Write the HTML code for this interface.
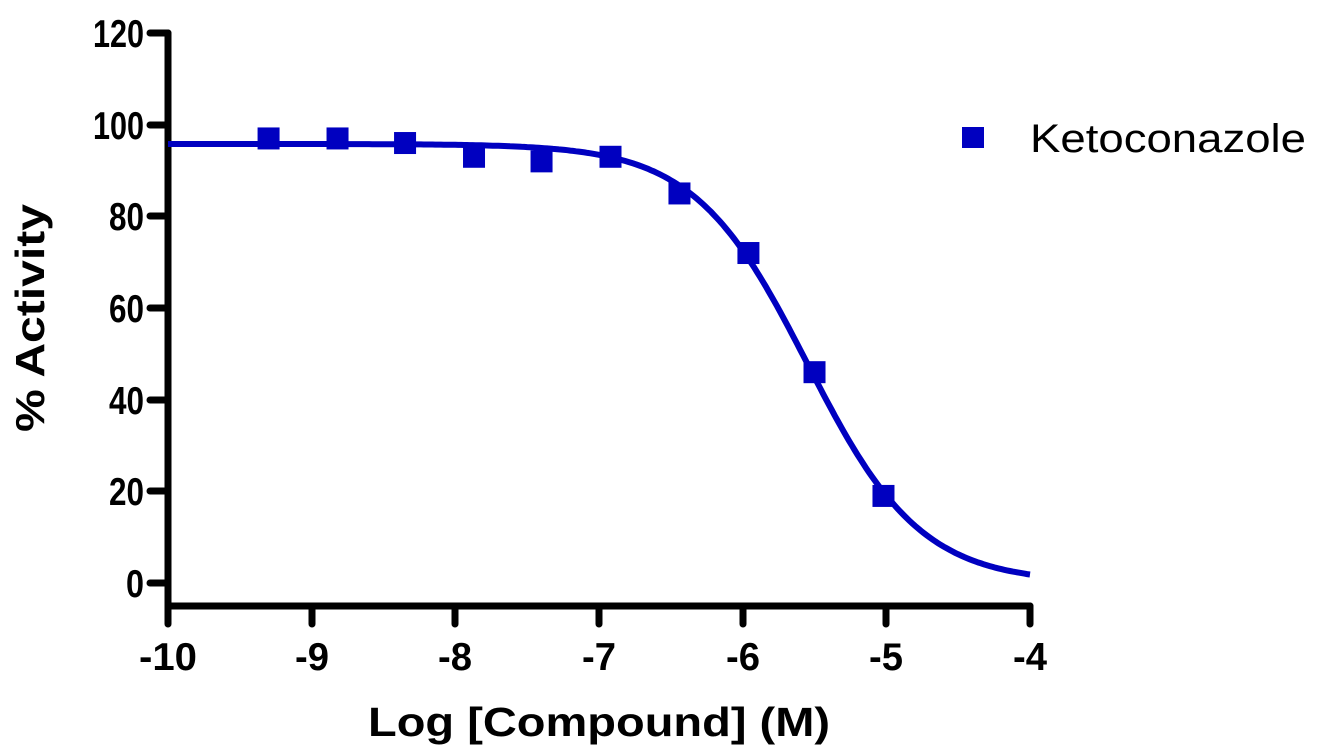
<!DOCTYPE html>
<html><head><style>body{margin:0;background:#fff}svg{display:block}text{font-family:"Liberation Sans",Arial,sans-serif}</style></head>
<body>
<svg width="1318" height="756" viewBox="0 0 1318 756" xmlns="http://www.w3.org/2000/svg">
<g stroke="#000" stroke-width="7" stroke-linecap="round" fill="none">
<line x1="168" y1="33" x2="168" y2="606"/>
<line x1="168" y1="606" x2="1030" y2="606"/>
<line x1="150" y1="33" x2="168" y2="33"/>
<line x1="150" y1="125" x2="168" y2="125"/>
<line x1="150" y1="216" x2="168" y2="216"/>
<line x1="150" y1="308" x2="168" y2="308"/>
<line x1="150" y1="400" x2="168" y2="400"/>
<line x1="150" y1="491" x2="168" y2="491"/>
<line x1="150" y1="583" x2="168" y2="583"/>
<line x1="168" y1="606" x2="168" y2="624"/>
<line x1="312" y1="606" x2="312" y2="624"/>
<line x1="455" y1="606" x2="455" y2="624"/>
<line x1="599" y1="606" x2="599" y2="624"/>
<line x1="743" y1="606" x2="743" y2="624"/>
<line x1="886" y1="606" x2="886" y2="624"/>
<line x1="1030" y1="606" x2="1030" y2="624"/>
</g>
<g font-weight="bold" font-size="39" text-anchor="end" fill="#000">
<text x="144" y="47" textLength="51" lengthAdjust="spacingAndGlyphs">120</text>
<text x="144" y="139" textLength="51" lengthAdjust="spacingAndGlyphs">100</text>
<text x="144" y="230" textLength="35" lengthAdjust="spacingAndGlyphs">80</text>
<text x="144" y="322" textLength="35" lengthAdjust="spacingAndGlyphs">60</text>
<text x="144" y="414" textLength="35" lengthAdjust="spacingAndGlyphs">40</text>
<text x="144" y="505" textLength="35" lengthAdjust="spacingAndGlyphs">20</text>
<text x="144" y="597" textLength="18" lengthAdjust="spacingAndGlyphs">0</text>
</g>
<g font-weight="bold" font-size="39" text-anchor="middle" fill="#000">
<text x="168" y="670" textLength="58" lengthAdjust="spacingAndGlyphs">-10</text>
<text x="312" y="670" textLength="34" lengthAdjust="spacingAndGlyphs">-9</text>
<text x="455" y="670" textLength="34" lengthAdjust="spacingAndGlyphs">-8</text>
<text x="599" y="670" textLength="34" lengthAdjust="spacingAndGlyphs">-7</text>
<text x="743" y="670" textLength="34" lengthAdjust="spacingAndGlyphs">-6</text>
<text x="886" y="670" textLength="34" lengthAdjust="spacingAndGlyphs">-5</text>
<text x="1030" y="670" textLength="34" lengthAdjust="spacingAndGlyphs">-4</text>
</g>
<text x="599" y="736" font-weight="bold" font-size="41" text-anchor="middle" textLength="462" lengthAdjust="spacingAndGlyphs">Log [Compound] (M)</text>
<text transform="translate(44,318) rotate(-90)" font-weight="bold" font-size="41" text-anchor="middle" textLength="228" lengthAdjust="spacingAndGlyphs">% Activity</text>
<path id="c" fill="none" stroke="#0000c0" stroke-width="6" d=""/>
<g fill="#0000c0" id="pts"></g>
<rect x="962" y="127" width="22" height="21" fill="#0000c0"/>
<text x="1030" y="152" font-size="40" textLength="276" lengthAdjust="spacingAndGlyphs">Ketoconazole</text>
<script>
var X=function(v){return 168+(v+10)*143.67},Y=function(v){return 583-v*4.583};
var d="";for(var i=0;i<=300;i++){var l=-10+6*i/300;var y=95.8/(1+Math.pow(10,1.1*(l+5.55)));d+=(i?"L":"M")+X(l).toFixed(1)+","+Y(y).toFixed(1);}
document.getElementById("c").setAttribute("d",d);
var p=[[-9.3,97],[-8.82,97],[-8.35,96],[-7.87,93],[-7.4,92],[-6.92,93],[-6.44,85],[-5.96,72],[-5.5,46],[-5.02,19]];
var g=document.getElementById("pts");p.forEach(function(q){var r=document.createElementNS("http://www.w3.org/2000/svg","rect");r.setAttribute("x",X(q[0])-11);r.setAttribute("y",Y(q[1])-11);r.setAttribute("width",22);r.setAttribute("height",22);g.appendChild(r);});
</script>
</svg>
</body></html>
